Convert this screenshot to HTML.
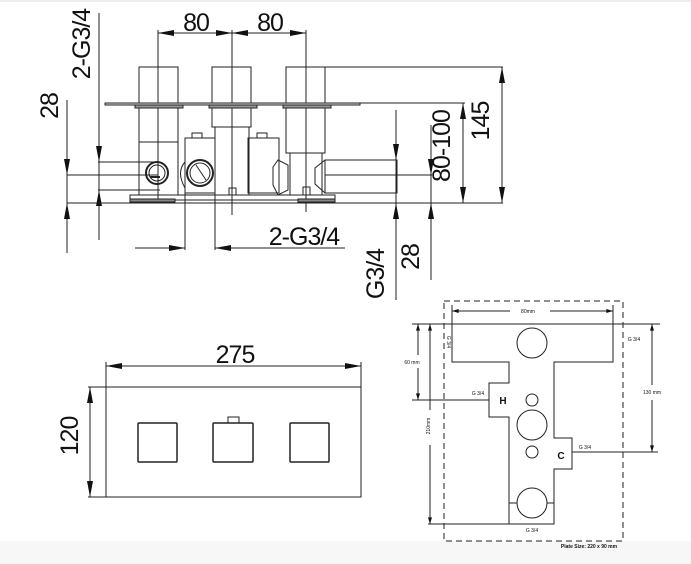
<!DOCTYPE html>
<html><head><meta charset="utf-8"><style>
html,body{margin:0;padding:0;background:#fff;width:691px;height:564px;overflow:hidden}
svg{display:block}
text{font-family:"Liberation Sans",sans-serif;fill:#111}
.n{font-family:"Liberation Sans Narrow","Liberation Sans",sans-serif;letter-spacing:-1px}
</style></head><body>
<svg width="691" height="564" viewBox="0 0 691 564" xmlns="http://www.w3.org/2000/svg">
<defs>
<marker id="a" viewBox="0 0 16 6" refX="16" refY="3" markerWidth="16" markerHeight="6" orient="auto-start-reverse" markerUnits="userSpaceOnUse"><path d="M0,0L16,3L0,6z" fill="#111"/></marker>
<marker id="b" viewBox="0 0 10 6" refX="10" refY="3" markerWidth="7" markerHeight="4" orient="auto-start-reverse" markerUnits="userSpaceOnUse"><path d="M0,0L10,3L0,6z" fill="#111"/></marker>
</defs>
<rect x="0" y="0" width="691" height="2" fill="#eee"/>
<rect x="0" y="541" width="691" height="23" fill="#f7f7f7"/>
<g stroke="#222" stroke-width="1" fill="none">
<line x1="99" y1="13" x2="99" y2="240"/>
<line x1="99" y1="125" x2="99" y2="162" marker-end="url(#a)"/>
<line x1="99" y1="226" x2="99" y2="190" marker-end="url(#a)"/>
<line x1="67" y1="100" x2="67" y2="253"/>
<line x1="67" y1="140" x2="67" y2="175" marker-end="url(#a)"/>
<line x1="67" y1="240" x2="67" y2="203" marker-end="url(#a)"/>
<line x1="98" y1="162" x2="158" y2="162"/>
<line x1="67" y1="175" x2="158" y2="175"/>
<line x1="98" y1="190" x2="160" y2="190"/>
<line x1="67" y1="203" x2="503" y2="203"/>
<line x1="158" y1="30" x2="158" y2="200"/>
<line x1="232" y1="30" x2="232" y2="215"/>
<line x1="306" y1="30" x2="306" y2="212"/>
<line x1="158" y1="33" x2="232" y2="33" marker-start="url(#a)" marker-end="url(#a)"/>
<line x1="232" y1="33" x2="306" y2="33" marker-start="url(#a)" marker-end="url(#a)"/>
<rect x="139" y="67" width="39" height="36"/>
<rect x="212" y="67" width="39" height="36"/>
<rect x="286" y="67" width="39" height="36"/>
<rect x="105" y="103" width="255" height="2" fill="#ddd"/>
<rect x="135" y="105" width="48" height="3" fill="#999"/>
<rect x="209" y="105" width="48" height="3" fill="#999"/>
<rect x="283" y="105" width="48" height="3" fill="#999"/>
<rect x="139" y="108" width="39" height="87"/>
<line x1="139" y1="142" x2="178" y2="142"/>
<rect x="212" y="108" width="39" height="19"/>
<rect x="215" y="127" width="34" height="68"/>
<rect x="286" y="108" width="39" height="45"/>
<line x1="290" y1="153" x2="290" y2="195"/>
<line x1="322" y1="153" x2="322" y2="195"/>
<rect x="130" y="195" width="205" height="5"/>
<rect x="130" y="199" width="45" height="3" fill="#888"/>
<rect x="298" y="199" width="37" height="3" fill="#888"/>
<rect x="185" y="138" width="30" height="55"/>
<rect x="192" y="133" width="10" height="5"/>
<rect x="248" y="138" width="31" height="55"/>
<rect x="257" y="133" width="10" height="5"/>
<rect x="229" y="188" width="7" height="7"/>
<rect x="303" y="187" width="7" height="8"/>
<circle cx="157" cy="173" r="11" stroke-width="2"/>
<circle cx="157" cy="173" r="8"/>
<line x1="150" y1="177" x2="160" y2="177" stroke-width="2"/>
<circle cx="200" cy="173" r="13" stroke-width="2"/>
<circle cx="200" cy="173" r="10"/>
<line x1="196" y1="165" x2="206" y2="180"/>
<path d="M185,162 Q176,172 185,188"/>
<path d="M278,160 L288,165 L288,190 L278,195 L273,185 L273,167 Z"/>
<path d="M325,160 L315,168 L315,184 L325,193"/>
<rect x="325" y="160" width="72" height="33"/>
<line x1="325" y1="175" x2="432" y2="175"/>
<line x1="325" y1="67" x2="503" y2="67"/>
<line x1="502" y1="67" x2="502" y2="203"/>
<line x1="502" y1="100" x2="502" y2="67" marker-end="url(#a)"/>
<line x1="502" y1="170" x2="502" y2="203" marker-end="url(#a)"/>
<line x1="360" y1="103" x2="465" y2="103"/>
<line x1="463" y1="103" x2="463" y2="203"/>
<line x1="463" y1="130" x2="463" y2="103" marker-end="url(#a)"/>
<line x1="463" y1="170" x2="463" y2="203" marker-end="url(#a)"/>
<line x1="396" y1="110" x2="396" y2="300"/>
<line x1="396" y1="130" x2="396" y2="160" marker-end="url(#a)"/>
<line x1="396" y1="235" x2="396" y2="203" marker-end="url(#a)"/>
<line x1="431" y1="125" x2="431" y2="280"/>
<line x1="431" y1="150" x2="431" y2="175" marker-end="url(#a)"/>
<line x1="431" y1="235" x2="431" y2="203" marker-end="url(#a)"/>
<line x1="185" y1="138" x2="185" y2="250"/>
<line x1="215" y1="193" x2="215" y2="250"/>
<line x1="135" y1="248" x2="185" y2="248" marker-end="url(#a)"/>
<line x1="345" y1="248" x2="215" y2="248" marker-end="url(#a)"/>
<rect x="106" y="387" width="255" height="110"/>
<line x1="88" y1="387" x2="106" y2="387"/>
<line x1="88" y1="497" x2="106" y2="497"/>
<line x1="106" y1="362" x2="106" y2="387"/>
<line x1="361" y1="362" x2="361" y2="387"/>
<line x1="106" y1="366" x2="361" y2="366" marker-start="url(#a)" marker-end="url(#a)"/>
<line x1="90" y1="387" x2="90" y2="497" marker-start="url(#a)" marker-end="url(#a)"/>
<rect x="138" y="423" width="39" height="39" rx="1" stroke-width="1.5"/>
<rect x="213" y="423" width="40" height="39" rx="1" stroke-width="1.5"/>
<rect x="290" y="423" width="39" height="39" rx="1" stroke-width="1.5"/>
<rect x="228" y="417" width="11" height="6"/>
<rect x="444" y="301" width="179" height="240" stroke-dasharray="6,4"/>
<line x1="452" y1="305" x2="452" y2="324"/>
<line x1="613" y1="305" x2="613" y2="324"/>
<line x1="452" y1="311" x2="510" y2="311" marker-start="url(#b)"/>
<line x1="550" y1="311" x2="613" y2="311" marker-end="url(#b)"/>
<line x1="412" y1="324" x2="660" y2="324"/>
<path d="M452,324 L613,324 L613,362 L554,362 L554,438 L572,438 L572,469 L554,469 L554,524 L509,524 L509,417 L489,417 L489,383 L509,383 L509,362 L452,362 Z"/>
<circle cx="532" cy="343" r="15"/>
<circle cx="532" cy="400" r="6"/>
<circle cx="532" cy="425" r="15"/>
<circle cx="532" cy="452" r="6"/>
<circle cx="532" cy="503" r="15"/>
<line x1="509" y1="503" x2="517" y2="503"/>
<line x1="547" y1="503" x2="554" y2="503"/>
<line x1="412" y1="400" x2="489" y2="400"/>
<line x1="572" y1="452" x2="658" y2="452"/>
<line x1="428" y1="524" x2="554" y2="524"/>
<line x1="418" y1="324" x2="418" y2="355" marker-start="url(#b)"/>
<line x1="418" y1="368" x2="418" y2="400" marker-end="url(#b)"/>
<line x1="430" y1="324" x2="430" y2="410" marker-start="url(#b)"/>
<line x1="430" y1="445" x2="430" y2="524" marker-end="url(#b)"/>
<line x1="652" y1="324" x2="652" y2="385" marker-start="url(#b)"/>
<line x1="652" y1="400" x2="652" y2="452" marker-end="url(#b)"/>
</g>
<g font-size="25">
<text x="96" y="50" transform="rotate(-90 90 50)" text-anchor="middle" class="n">2-G3/4</text>
<text x="64" y="112" transform="rotate(-90 58 112)" text-anchor="middle" class="n">28</text>
<text x="196" y="31" text-anchor="middle" class="n">80</text>
<text x="270" y="31" text-anchor="middle" class="n">80</text>
<text x="495" y="127" transform="rotate(-90 489 127)" text-anchor="middle" class="n">145</text>
<text x="456" y="152" transform="rotate(-90 450 152)" text-anchor="middle" class="n">80-100</text>
<text x="304" y="245" text-anchor="middle" class="n">2-G3/4</text>
<text x="390" y="280" transform="rotate(-90 384 280)" text-anchor="middle" class="n">G3/4</text>
<text x="425" y="263" transform="rotate(-90 419 263)" text-anchor="middle" class="n">28</text>
<text x="235" y="363" text-anchor="middle" class="n">275</text>
<text x="84" y="442" transform="rotate(-90 78 442)" text-anchor="middle" class="n">120</text>
</g>
<g font-size="5">
<text x="528" y="313" text-anchor="middle">80mm</text>
<text x="412" y="364" text-anchor="middle">60 mm</text>
<text x="652" y="394" text-anchor="middle">130 mm</text>
<text x="432" y="428" transform="rotate(-90 430 428)" text-anchor="middle">210mm</text>
<text x="478" y="395" text-anchor="middle">G 3/4</text>
<text x="585" y="449" text-anchor="middle">G 3/4</text>
<text x="532" y="532" text-anchor="middle">G 3/4</text>
<text x="449" y="340" transform="rotate(90 447 340)" text-anchor="middle">G 3/4</text>
<text x="634" y="341" text-anchor="middle">G 3/4</text>
<text x="589" y="548" text-anchor="middle" font-weight="bold">Plate Size: 220 x 90 mm</text>
</g>
<text x="503" y="404" font-size="10" font-weight="bold" text-anchor="middle">H</text>
<text x="561" y="459" font-size="10" font-weight="bold" text-anchor="middle">C</text>
</svg>
</body></html>
